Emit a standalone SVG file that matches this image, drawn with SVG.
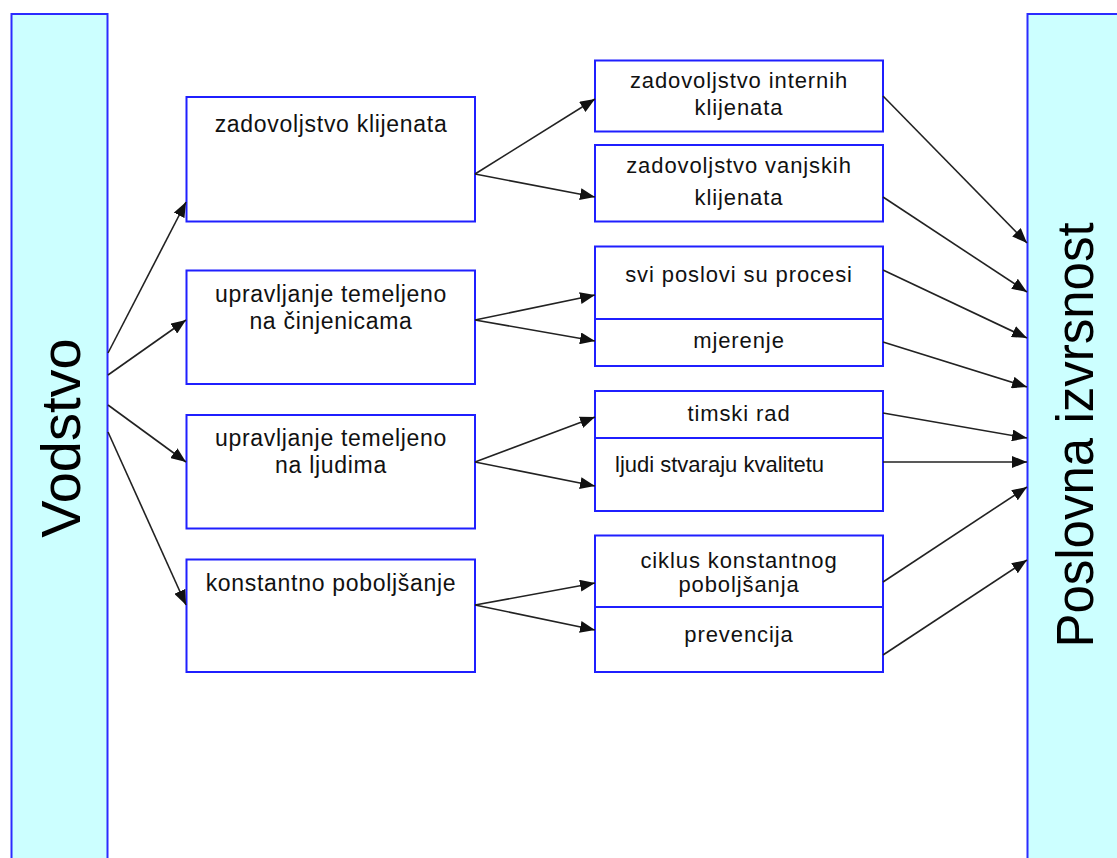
<svg xmlns="http://www.w3.org/2000/svg" width="1117" height="858" viewBox="0 0 1117 858">
<style>
.bar{fill:#ccffff;stroke:#2b2bff;stroke-width:2}
.box{fill:#ffffff;stroke:#1f1fff;stroke-width:2}
.div{stroke:#1f1fff;stroke-width:2}
.big{font-family:"Liberation Sans",Arial,sans-serif;fill:#000;text-anchor:middle}
.mt{font-family:"Liberation Sans",Arial,sans-serif;font-size:23px;letter-spacing:0.7px;fill:#111;text-anchor:middle}
.rt{font-family:"Liberation Sans",Arial,sans-serif;font-size:22px;letter-spacing:0.9px;fill:#111;text-anchor:middle}
.con line{stroke:#222;stroke-width:1.6;marker-end:url(#ah)}
</style>
<defs>
<marker id="ah" markerUnits="userSpaceOnUse" markerWidth="16" markerHeight="12" viewBox="0 0 16 12" refX="15" refY="6" orient="auto">
<path d="M0,0 L15,6 L0,12 Z" fill="#111"/>
</marker>
</defs>
<rect width="1117" height="858" fill="#ffffff"/>
<g id="vodstvo">
<rect class="bar" x="11.5" y="14" width="96" height="860"/>
<text class="big" font-size="56" transform="translate(80,438) rotate(-90)">Vodstvo</text>
</g>
<g id="poslovna-izvrsnost">
<rect class="bar" x="1027.5" y="14" width="100" height="860"/>
<text class="big" font-size="51" transform="translate(1093,435) rotate(-90)">Poslovna izvrsnost</text>
</g>
<g id="m1">
<rect class="box" x="186.5" y="97" width="288.5" height="124.5"/>
<text class="mt" x="331" y="132">zadovoljstvo klijenata</text>
</g>
<g id="m2">
<rect class="box" x="186.5" y="270.5" width="288.5" height="113.5"/>
<text class="mt" x="331" y="302">upravljanje temeljeno</text>
<text class="mt" x="331" y="329">na činjenicama</text>
</g>
<g id="m3">
<rect class="box" x="186.5" y="415" width="288.5" height="113.5"/>
<text class="mt" x="331" y="446">upravljanje temeljeno</text>
<text class="mt" x="331" y="473">na ljudima</text>
</g>
<g id="m4">
<rect class="box" x="186.5" y="559.5" width="288.5" height="112.5"/>
<text class="mt" x="331" y="591">konstantno poboljšanje</text>
</g>
<g id="r1">
<rect class="box" x="595" y="60.5" width="288" height="71"/>
<text class="rt" x="739" y="88">zadovoljstvo internih</text>
<text class="rt" x="739" y="115">klijenata</text>
</g>
<g id="r2">
<rect class="box" x="595" y="145" width="288" height="76.5"/>
<text class="rt" x="739" y="173">zadovoljstvo vanjskih</text>
<text class="rt" x="739" y="205">klijenata</text>
</g>
<g id="r3">
<rect class="box" x="595" y="246.5" width="288" height="119.5"/>
<line class="div" x1="595" y1="319" x2="883" y2="319"/>
<text class="rt" x="739" y="282">svi poslovi su procesi</text>
<text class="rt" x="739" y="348">mjerenje</text>
</g>
<g id="r4">
<rect class="box" x="595" y="391" width="288" height="120"/>
<line class="div" x1="595" y1="438" x2="883" y2="438"/>
<text class="rt" x="739" y="421">timski rad</text>
<text x="615" y="472" font-family="Liberation Sans, Arial, sans-serif" font-size="22" fill="#111">ljudi stvaraju kvalitetu</text>
</g>
<g id="r5">
<rect class="box" x="595" y="535.5" width="288" height="136.5"/>
<line class="div" x1="595" y1="607" x2="883" y2="607"/>
<text class="rt" x="739" y="568">ciklus konstantnog</text>
<text class="rt" x="739" y="592">poboljšanja</text>
<text class="rt" x="739" y="642">prevencija</text>
</g>
<g id="connectors" class="con">
<line x1="108" y1="353" x2="186" y2="202"/>
<line x1="108" y1="375" x2="186" y2="320"/>
<line x1="108" y1="405" x2="186" y2="462"/>
<line x1="108" y1="432" x2="186" y2="605"/>
<line x1="475" y1="174" x2="595" y2="99"/>
<line x1="475" y1="174" x2="595" y2="197"/>
<line x1="475" y1="320" x2="595" y2="295"/>
<line x1="475" y1="320" x2="595" y2="341"/>
<line x1="475" y1="462" x2="595" y2="417"/>
<line x1="475" y1="462" x2="595" y2="486"/>
<line x1="475" y1="605" x2="595" y2="583"/>
<line x1="475" y1="605" x2="595" y2="630"/>
<line x1="883" y1="96" x2="1027" y2="243"/>
<line x1="883" y1="197" x2="1027" y2="292"/>
<line x1="883" y1="270" x2="1027" y2="338"/>
<line x1="883" y1="342" x2="1027" y2="387"/>
<line x1="883" y1="413" x2="1027" y2="438"/>
<line x1="883" y1="462" x2="1027" y2="462"/>
<line x1="883" y1="582" x2="1027" y2="487"/>
<line x1="883" y1="655" x2="1027" y2="560"/>
</g>
</svg>
